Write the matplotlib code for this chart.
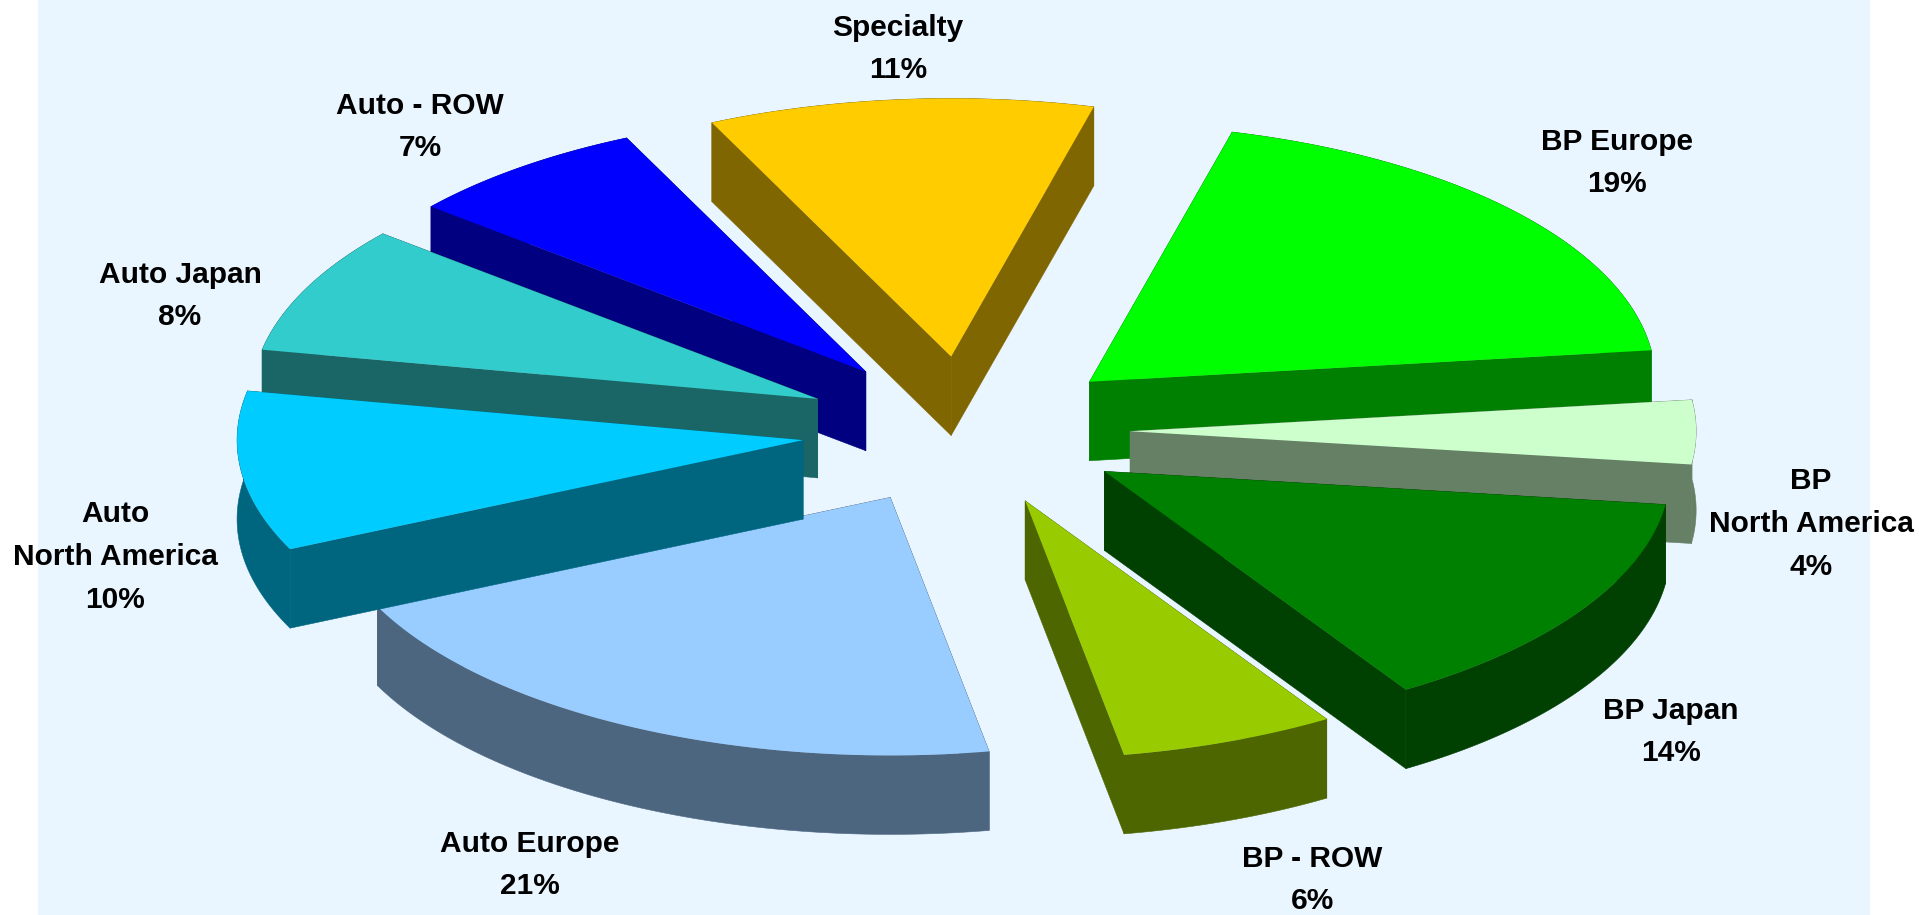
import numpy as np
import matplotlib
matplotlib.use("Agg")
import matplotlib.pyplot as plt
from matplotlib.collections import PolyCollection
from matplotlib.patches import Rectangle

# ---- data -------------------------------------------------------------
names = ["Specialty", "BP Europe", "BP\nNorth America", "BP Japan", "BP - ROW",
         "Auto Europe", "Auto\nNorth America", "Auto Japan", "Auto - ROW"]
shares = [11, 19, 4, 14, 6.15, 20.85, 10, 8, 7]

# ---- styles -----------------------------------------------------------
top_colors = ["#FFCC00", "#00FF00", "#CCFFCC", "#008000", "#99CC00",
              "#99CCFF", "#00CCFF", "#33CCCC", "#0000FF"]
side_colors = ["#806600", "#008000", "#668066", "#004000", "#4D6600",
               "#4D6680", "#006680", "#1A6666", "#000080"]
draw_order = [0, 1, 2, 3, 4, 8, 7, 5, 6]
label_centers_px = [(898, 49), (1617, 163), (1811, 524), (1671, 732), (1312, 880),
                    (530, 865), (115, 557), (180, 296), (420, 127)]

W, H = 1919, 915
CX, CY, RX, RY = 966, 431, 566, 258
DEPTH = 79 / RY
EXPLODE = 0.29
START_DEG = -25

fig = plt.figure(figsize=(W / 100, H / 100), dpi=100, facecolor="white")
ax = fig.add_axes([0, 0, 1, 1])
ax.set_xlim(-CX / RX, (W - CX) / RX)
ax.set_ylim((CY - H) / RY, CY / RY)
ax.axis("off")

ax.add_patch(Rectangle((38 / W, 0), (1870 - 38) / W, 1, transform=ax.transAxes,
                       facecolor="#E9F5FF", edgecolor="none", zorder=0))

edges = START_DEG + np.concatenate([[0], np.cumsum(shares)]) * 360.0 / sum(shares)

z = 1
for i in draw_order:
    a0, a1 = np.radians(edges[i]), np.radians(edges[i + 1])
    mid = (a0 + a1) / 2
    ox, oy = EXPLODE * np.sin(mid), EXPLODE * np.cos(mid)
    t = np.linspace(a0, a1, 80)
    ax_, ay_ = ox + np.sin(t), oy + np.cos(t)
    strip = np.column_stack([np.r_[ax_, ax_[::-1]], np.r_[ay_, ay_[::-1] - DEPTH]])
    left = [(ox, oy), (ax_[0], ay_[0]), (ax_[0], ay_[0] - DEPTH), (ox, oy - DEPTH)]
    right = [(ox, oy), (ax_[-1], ay_[-1]), (ax_[-1], ay_[-1] - DEPTH), (ox, oy - DEPTH)]
    ax.add_collection(PolyCollection([strip, left, right], facecolors=side_colors[i],
                                     edgecolors=side_colors[i], linewidths=0.4, zorder=z))
    ax.fill(np.r_[ox, ax_], np.r_[oy, ay_], facecolor=top_colors[i], edgecolor="none", zorder=z + 1)
    z += 2

for name, share, (px, py) in zip(names, shares, label_centers_px):
    fig.text(px / W, 1 - py / H, f"{name}\n{round(share)}%", ha="center", va="center",
             family="Liberation Sans", fontweight="bold", fontsize=21.5,
             color="black", linespacing=1.68, zorder=100)

fig.savefig("out.png", dpi=100, facecolor="white")
